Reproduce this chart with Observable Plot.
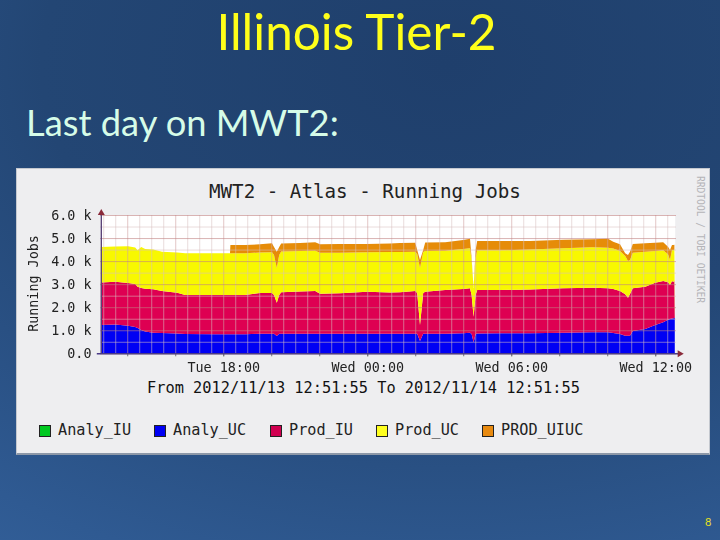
<!DOCTYPE html>
<html><head><meta charset="utf-8">
<script src="https://cdn.jsdelivr.net/npm/d3@7"></script>
<script src="https://cdn.jsdelivr.net/npm/@observablehq/plot@0.6"></script>
<style>
html,body{margin:0;padding:0;width:720px;height:540px;overflow:hidden}
body{position:relative;background:radial-gradient(ellipse 900px 620px at 62% 12%,#1f3f6c 0%,#234674 45%,#2f5a92 85%,#34619b 100%)}
.t{position:absolute;white-space:nowrap}
#title{left:0;width:713px;text-align:center;top:0;font:49.5px Lato,sans-serif;color:#ffff1a;line-height:62px}
#sub{left:26px;top:98px;font:36.3px Lato,sans-serif;color:#d6fce8;line-height:48px}
#num{left:705px;top:515px;font:11px Lato,sans-serif;color:#e8e020}
#panel{position:absolute;left:16px;top:168px;width:694px;height:287px;background:#eeeef0;box-sizing:border-box;border:1.5px solid #c4c8cf;border-bottom:2.5px solid #8d98a8}
#chart{position:absolute;left:0;top:168px;filter:blur(0.35px)}
.m{font-family:"DejaVu Sans Mono",monospace;color:#222}
#ct{left:209px;top:180px;font-size:19.2px;line-height:24px}
#from{left:147px;top:378px;font-size:15.3px;line-height:20px;color:#111}
#rrd{left:694px;top:176px;font-size:9.6px;line-height:12px;color:#b4b4b8;writing-mode:vertical-rl}
#legend{position:absolute;top:420px;left:0;height:20px}
.li{position:absolute;top:0;font:15.2px/20px "DejaVu Sans Mono",monospace;color:#222;white-space:nowrap}
.sw{position:absolute;top:5px;width:10px;height:10px;border:1px solid #222}
</style></head><body>
<div id="title" class="t">Illinois Tier-2</div>
<div id="sub" class="t">Last day on MWT2:</div>
<div id="panel"></div>
<div id="chart"></div>
<div id="ct" class="t m">MWT2 - Atlas - Running Jobs</div>
<div id="from" class="t m">From 2012/11/13 12:51:55 To 2012/11/14 12:51:55</div>
<div id="rrd" class="t m">RRDTOOL / TOBI OETIKER</div>
<div id="legend"></div>
<div id="num" class="t">8</div>
<script>
// minutes since 2012/11/13 12:51:55
const minutes =  [2,38,70,88,94,103,113,133,155,193,213,288,325,326,363,400,430,435,442,448,453,500,538,550,600,668,725,750,788,793,800,808,813,863,908,925,929,934,939,943,1000,1075,1158,1230,1270,1283,1300,1313,1320,1325,1332,1363,1388,1408,1420,1425,1430,1433,1436,1437];
const analyUC =  [1228,1249,1197,1141,1098,1011,946,894,881,859,837,824,824,824,824,850,850,850,750,850,850,850,850,850,850,850,850,850,850,850,534,850,850,850,868,894,837,477,837,859,868,868,894,911,911,881,837,763,763,763,967,1054,1228,1345,1458,1488,1510,1518,1531,1531];
const prodIU =   [1844,1857,1852,1865,1792,1822,1857,1883,1822,1770,1692,1705,1705,1705,1705,1766,1766,1679,1445,1679,1796,1831,1852,1735,1753,1822,1787,1796,1852,1766,694,1766,1822,1896,1922,1926,1692,1111,1692,1887,1878,1900,1926,1935,1909,1909,1865,1796,1648,1809,1852,1835,1835,1792,1622,1475,1627,1588,1590,0];
const prodUC =   [1540,1527,1592,1583,1579,1779,1722,1727,1705,1744,1809,1809,1809,1809,1809,1757,1766,1735,1505,1735,1770,1757,1748,1779,1761,1709,1757,1748,1705,1692,2473,1779,1766,1705,1735,1735,1518,1245,1605,1722,1722,1735,1735,1753,1761,1757,1735,1661,1592,1475,1544,1518,1375,1332,1215,1085,1345,1375,1375,400];
const prodUIUC = [0,0,0,0,0,0,0,0,0,0,0,0,0,360,360,356,390,347,707,347,347,347,364,364,377,360,369,390,390,174,347,87,369,364,390,416,87,0,347,403,403,369,373,347,390,295,291,117,260,360,377,364,360,347,330,434,217,217,217,0];

const seriesNames = ["Analy_UC","Prod_IU","Prod_UC","PROD_UIUC"];
const seriesValues = [analyUC,prodIU,prodUC,prodUIUC];
const seriesColors = ["#0000f4","#de0052","#f8f800","#e68c08"];
const legendNames = ["Analy_IU","Analy_UC","Prod_IU","Prod_UC","PROD_UIUC"];
const legendColors = ["#00c820","#0000f4","#d00050","#ffff20","#e88a10"];
const legendX = [39,154,270,376,482];
const yTicks = [0,1000,2000,3000,4000,5000,6000];
const xLabelTimes = ["2012-11-13T18:00:00Z","2012-11-14T00:00:00Z","2012-11-14T06:00:00Z","2012-11-14T12:00:00Z"];

const start = Date.UTC(2012,10,13,12,51,55);
const end = start + 1440*60000;
const at = m => new Date(start + m*60000);
const rows = seriesNames.flatMap((s,i)=>minutes.map((m,j)=>({t:at(m),v:seriesValues[i][j],s})));

const majorX = d3.utcHour.every(2).range(new Date(start), new Date(end));
const minorX = d3.utcMinute.every(30).range(new Date(start), new Date(end)).filter(d=>!majorX.some(e=>+e===+d));
const minorY = d3.range(500,6001,1000);
const fmtY = d=> d===0 ? "0.0" : (d/1000).toFixed(1)+" k";

const chart = Plot.plot({
  width:720, height:222,
  marginLeft:100, marginRight:44, marginTop:47, marginBottom:36.7,
  x:{type:"utc",domain:[new Date(start),new Date(end)]},
  y:{domain:[0,6000]},
  color:{domain:seriesNames,range:seriesColors},
  style:{background:"transparent",fontFamily:"'DejaVu Sans Mono',monospace"},
  marks:[
    Plot.rect([0],{x1:()=>new Date(start),x2:()=>new Date(end-2*60000),y1:()=>0,y2:()=>6000,fill:"#fff"}),
    Plot.areaY(rows,{x:"t",y:"v",z:"s",fill:"s"}),
    Plot.ruleX(minorX,{stroke:"#d8c0c0",strokeOpacity:0.55,strokeWidth:1}),
    Plot.ruleY(minorY,{stroke:"#d8c0c0",strokeOpacity:0.55,strokeWidth:1}),
    Plot.ruleX(majorX,{stroke:"#d0a0a0",strokeOpacity:0.6,strokeWidth:1}),
    Plot.ruleY(yTicks,{stroke:"#c08080",strokeOpacity:0.6,strokeWidth:1}),
    Plot.axisX({ticks:majorX,tickSize:3,tickFormat:()=>"",stroke:"#777",label:null}),
    Plot.axisX({ticks:xLabelTimes.map(d=>new Date(d)),tickSize:3,tickPadding:6,tickFormat:d3.utcFormat("%a %H:%M"),fontSize:13.4,fill:"#222",stroke:"#777",label:null}),
    Plot.axisY({ticks:yTicks,tickSize:0,tickPadding:9,tickFormat:fmtY,fontSize:13.4,fill:"#222",label:null}),
    Plot.text(["Running Jobs"],{x:()=>new Date(start),dx:-67,y:()=>3050,rotate:-90,fontSize:13.4,fill:"#222",text:d=>d}),
    Plot.ruleX([0],{x:()=>new Date(start+2*60000),y1:()=>0,y2:()=>6130,stroke:"#5a4478",strokeWidth:1.4}),
    Plot.ruleY([0],{y:()=>0,x1:()=>new Date(start-8*60000),x2:()=>new Date(end+6*60000),stroke:"#4a3a86",strokeWidth:1.6}),
    Plot.dot([0],{x:()=>new Date(start+2*60000),y:()=>6110,symbol:"triangle",r:2.6,fill:"#8a2a3a",stroke:"none"}),
    Plot.dot([0],{x:()=>new Date(end+8*60000),y:()=>0,symbol:"triangle",r:2.6,rotate:90,fill:"#8a2a3a",stroke:"none"})
  ]
});
document.getElementById("chart").appendChild(chart);

const lg = document.getElementById("legend");
legendNames.forEach((n,i)=>{
  const sw=document.createElement("div");sw.className="sw";sw.style.left=legendX[i]+"px";sw.style.background=legendColors[i];
  const li=document.createElement("div");li.className="li";li.style.left=(legendX[i]+19)+"px";li.textContent=n;
  lg.append(sw,li);
});
</script>
</body></html>
